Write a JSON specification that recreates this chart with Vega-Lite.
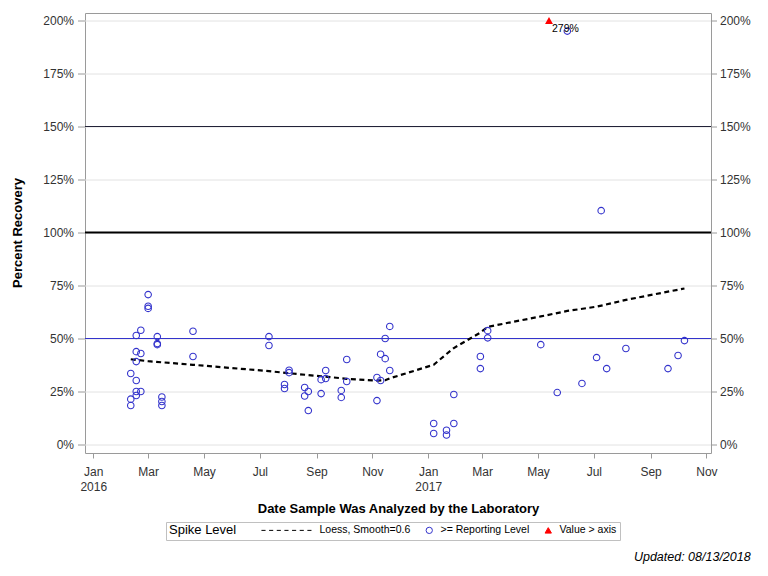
{
  "$schema": "https://vega.github.io/schema/vega-lite/v6.json",
  "autosize": {"type": "none"},
  "width": 626,
  "height": 440,
  "padding": {"left": 85, "top": 13, "right": 57, "bottom": 123},
  "background": "white",
  "title": {
    "text": "Updated: 08/13/2018",
    "orient": "bottom",
    "anchor": "end",
    "frame": "bounds",
    "font": "Liberation Sans",
    "fontSize": 12.5,
    "fontStyle": "italic",
    "fontWeight": "normal",
    "color": "#000000",
    "offset": 10
  },
  "data": {"values": [{}]},
  "layer": [
    {
      "mark": {"type": "rule", "color": "#222238", "strokeWidth": 1},
      "encoding": {"y": {"datum": 150, "type": "quantitative", "scale": {"domain": [-4.009, 203.538], "nice": false, "zero": false}, "axis": null}}
    },
    {
      "mark": {"type": "rule", "color": "#000000", "strokeWidth": 2},
      "encoding": {"y": {"datum": 100, "type": "quantitative", "scale": {"domain": [-4.009, 203.538], "nice": false, "zero": false}, "axis": null}}
    },
    {
      "mark": {"type": "rule", "color": "#3333cc", "strokeWidth": 1},
      "encoding": {"y": {"datum": 50, "type": "quantitative", "scale": {"domain": [-4.009, 203.538], "nice": false, "zero": false}, "axis": null}}
    },
    {
      "data": {"values": [
        {"date": "2016-02-11", "pct": 40.2},
        {"date": "2016-03-01", "pct": 39.3},
        {"date": "2016-04-19", "pct": 37.6},
        {"date": "2016-07-11", "pct": 34.6},
        {"date": "2016-08-02", "pct": 33.6},
        {"date": "2016-09-06", "pct": 32.2},
        {"date": "2016-10-04", "pct": 31.0},
        {"date": "2016-11-06", "pct": 30.1},
        {"date": "2016-11-15", "pct": 30.3},
        {"date": "2016-11-20", "pct": 31.2},
        {"date": "2017-01-07", "pct": 37.6},
        {"date": "2017-01-21", "pct": 42.7},
        {"date": "2017-01-29", "pct": 45.5},
        {"date": "2017-02-27", "pct": 52.8},
        {"date": "2017-03-07", "pct": 55.5},
        {"date": "2017-05-04", "pct": 60.4},
        {"date": "2017-06-02", "pct": 63.0},
        {"date": "2017-07-04", "pct": 65.0},
        {"date": "2017-08-05", "pct": 68.2},
        {"date": "2017-09-20", "pct": 72.1},
        {"date": "2017-10-08", "pct": 73.6}
      ]},
      "mark": {"type": "line", "color": "#000000", "strokeWidth": 2.2, "strokeDash": [5, 3.5]},
      "encoding": {
        "x": {"field": "date", "type": "temporal", "scale": {"type": "utc", "domain": [{"year": 2015, "month": 12, "date": 23, "utc": true}, {"year": 2017, "month": 11, "date": 6, "utc": true}]}},
        "y": {
          "field": "pct", "type": "quantitative",
          "scale": {"domain": [-4.009, 203.538], "nice": false, "zero": false},
          "axis": {
            "orient": "right", "title": null, "grid": false,
            "values": [0, 25, 50, 75, 100, 125, 150, 175, 200],
            "labelExpr": "datum.value + '%'",
            "tickSize": 6, "labelPadding": 3, "translate": 0
          }
        }
      }
    },
    {
      "data": {"values": [
        {"date": "2016-02-11", "pct": 33.5, "series": ">= Reporting Level"},
        {"date": "2016-02-11", "pct": 21.4, "series": ">= Reporting Level"},
        {"date": "2016-02-11", "pct": 18.4, "series": ">= Reporting Level"},
        {"date": "2016-02-17", "pct": 51.4, "series": ">= Reporting Level"},
        {"date": "2016-02-17", "pct": 43.8, "series": ">= Reporting Level"},
        {"date": "2016-02-17", "pct": 39.1, "series": ">= Reporting Level"},
        {"date": "2016-02-17", "pct": 30.2, "series": ">= Reporting Level"},
        {"date": "2016-02-17", "pct": 25.0, "series": ">= Reporting Level"},
        {"date": "2016-02-17", "pct": 23.1, "series": ">= Reporting Level"},
        {"date": "2016-02-22", "pct": 53.9, "series": ">= Reporting Level"},
        {"date": "2016-02-22", "pct": 42.9, "series": ">= Reporting Level"},
        {"date": "2016-02-22", "pct": 25.0, "series": ">= Reporting Level"},
        {"date": "2016-03-01", "pct": 70.7, "series": ">= Reporting Level"},
        {"date": "2016-03-01", "pct": 65.2, "series": ">= Reporting Level"},
        {"date": "2016-03-01", "pct": 64.2, "series": ">= Reporting Level"},
        {"date": "2016-03-11", "pct": 50.9, "series": ">= Reporting Level"},
        {"date": "2016-03-11", "pct": 47.6, "series": ">= Reporting Level"},
        {"date": "2016-03-11", "pct": 47.1, "series": ">= Reporting Level"},
        {"date": "2016-03-16", "pct": 22.4, "series": ">= Reporting Level"},
        {"date": "2016-03-16", "pct": 20.3, "series": ">= Reporting Level"},
        {"date": "2016-03-16", "pct": 18.4, "series": ">= Reporting Level"},
        {"date": "2016-04-19", "pct": 53.4, "series": ">= Reporting Level"},
        {"date": "2016-04-19", "pct": 41.5, "series": ">= Reporting Level"},
        {"date": "2016-07-11", "pct": 50.9, "series": ">= Reporting Level"},
        {"date": "2016-07-11", "pct": 46.7, "series": ">= Reporting Level"},
        {"date": "2016-07-28", "pct": 28.3, "series": ">= Reporting Level"},
        {"date": "2016-07-28", "pct": 26.4, "series": ">= Reporting Level"},
        {"date": "2016-08-02", "pct": 35.0, "series": ">= Reporting Level"},
        {"date": "2016-08-02", "pct": 33.9, "series": ">= Reporting Level"},
        {"date": "2016-08-19", "pct": 26.9, "series": ">= Reporting Level"},
        {"date": "2016-08-19", "pct": 22.9, "series": ">= Reporting Level"},
        {"date": "2016-08-23", "pct": 25.0, "series": ">= Reporting Level"},
        {"date": "2016-08-23", "pct": 16.0, "series": ">= Reporting Level"},
        {"date": "2016-09-06", "pct": 30.6, "series": ">= Reporting Level"},
        {"date": "2016-09-06", "pct": 24.0, "series": ">= Reporting Level"},
        {"date": "2016-09-11", "pct": 34.9, "series": ">= Reporting Level"},
        {"date": "2016-09-11", "pct": 31.1, "series": ">= Reporting Level"},
        {"date": "2016-09-28", "pct": 25.5, "series": ">= Reporting Level"},
        {"date": "2016-09-28", "pct": 22.2, "series": ">= Reporting Level"},
        {"date": "2016-10-04", "pct": 40.1, "series": ">= Reporting Level"},
        {"date": "2016-10-04", "pct": 29.7, "series": ">= Reporting Level"},
        {"date": "2016-11-06", "pct": 31.6, "series": ">= Reporting Level"},
        {"date": "2016-11-06", "pct": 20.7, "series": ">= Reporting Level"},
        {"date": "2016-11-10", "pct": 42.6, "series": ">= Reporting Level"},
        {"date": "2016-11-10", "pct": 30.2, "series": ">= Reporting Level"},
        {"date": "2016-11-15", "pct": 50.0, "series": ">= Reporting Level"},
        {"date": "2016-11-15", "pct": 40.5, "series": ">= Reporting Level"},
        {"date": "2016-11-20", "pct": 55.7, "series": ">= Reporting Level"},
        {"date": "2016-11-20", "pct": 34.9, "series": ">= Reporting Level"},
        {"date": "2017-01-07", "pct": 9.9, "series": ">= Reporting Level"},
        {"date": "2017-01-07", "pct": 5.2, "series": ">= Reporting Level"},
        {"date": "2017-01-21", "pct": 6.7, "series": ">= Reporting Level"},
        {"date": "2017-01-21", "pct": 4.5, "series": ">= Reporting Level"},
        {"date": "2017-01-29", "pct": 23.6, "series": ">= Reporting Level"},
        {"date": "2017-01-29", "pct": 9.9, "series": ">= Reporting Level"},
        {"date": "2017-02-27", "pct": 41.5, "series": ">= Reporting Level"},
        {"date": "2017-02-27", "pct": 35.8, "series": ">= Reporting Level"},
        {"date": "2017-03-07", "pct": 53.7, "series": ">= Reporting Level"},
        {"date": "2017-03-07", "pct": 50.3, "series": ">= Reporting Level"},
        {"date": "2017-05-04", "pct": 47.1, "series": ">= Reporting Level"},
        {"date": "2017-05-22", "pct": 24.5, "series": ">= Reporting Level"},
        {"date": "2017-06-02", "pct": 195.0, "series": ">= Reporting Level"},
        {"date": "2017-06-18", "pct": 28.8, "series": ">= Reporting Level"},
        {"date": "2017-07-04", "pct": 41.0, "series": ">= Reporting Level"},
        {"date": "2017-07-09", "pct": 110.3, "series": ">= Reporting Level"},
        {"date": "2017-07-15", "pct": 35.8, "series": ">= Reporting Level"},
        {"date": "2017-08-05", "pct": 45.3, "series": ">= Reporting Level"},
        {"date": "2017-09-20", "pct": 35.8, "series": ">= Reporting Level"},
        {"date": "2017-10-01", "pct": 42.0, "series": ">= Reporting Level"},
        {"date": "2017-10-08", "pct": 49.0, "series": ">= Reporting Level"}
      ]},
      "mark": {"type": "point", "filled": false, "size": 42, "strokeWidth": 1.1, "opacity": 1},
      "encoding": {
        "x": {
          "field": "date", "type": "temporal",
          "scale": {"type": "utc", "domain": [{"year": 2015, "month": 12, "date": 23, "utc": true}, {"year": 2017, "month": 11, "date": 6, "utc": true}]},
          "axis": {
            "title": "Date Sample Was Analyzed by the Laboratory",
            "values": [
              {"year": 2016, "month": 1, "date": 1, "utc": true},
              {"year": 2016, "month": 3, "date": 1, "utc": true},
              {"year": 2016, "month": 5, "date": 1, "utc": true},
              {"year": 2016, "month": 7, "date": 1, "utc": true},
              {"year": 2016, "month": 9, "date": 1, "utc": true},
              {"year": 2016, "month": 11, "date": 1, "utc": true},
              {"year": 2017, "month": 1, "date": 1, "utc": true},
              {"year": 2017, "month": 3, "date": 1, "utc": true},
              {"year": 2017, "month": 5, "date": 1, "utc": true},
              {"year": 2017, "month": 7, "date": 1, "utc": true},
              {"year": 2017, "month": 9, "date": 1, "utc": true},
              {"year": 2017, "month": 11, "date": 1, "utc": true}
            ],
            "labelExpr": "[utcFormat(datum.value, '%b'), utcmonth(datum.value) == 0 ? utcFormat(datum.value, '%Y') : '']",
            "labelLineHeight": 15,
            "tickSize": 5,
            "labelPadding": 8,
            "titlePadding": 10,
            "grid": false,
            "labelFlush": false,
            "labelOverlap": false
          }
        },
        "y": {
          "field": "pct", "type": "quantitative",
          "scale": {"domain": [-4.009, 203.538], "nice": false, "zero": false},
          "axis": {
            "orient": "left", "title": "Percent Recovery", "grid": true,
            "values": [0, 25, 50, 75, 100, 125, 150, 175, 200],
            "labelExpr": "datum.value + '%'",
            "tickSize": 7, "labelPadding": 4, "titlePadding": 18, "translate": 0
          }
        },
        "color": {
          "field": "series", "type": "nominal",
          "scale": {"domain": ["Loess, Smooth=0.6", ">= Reporting Level", "Value > axis"], "range": ["#000000", "#3333cc", "#ff0000"]},
          "legend": {
            "title": "Spike Level",
            "orient": "none",
            "legendX": 81,
            "legendY": 509,
            "direction": "horizontal",
            "titleOrient": "left",
            "titleFontWeight": "normal",
            "titleFontSize": 13,
            "titleColor": "#000000",
            "titlePadding": 66,
            "labelFontSize": 10.5,
            "labelColor": "#000000",
            "labelOffset": 6,
            "symbolSize": 40,
            "symbolStrokeWidth": 1,
            "symbolOpacity": 1,
            "columnPadding": 13,
            "strokeColor": "#c0c0c0",
            "padding": 3
          }
        },
        "fill": {
          "field": "series", "type": "nominal",
          "scale": {"domain": ["Loess, Smooth=0.6", ">= Reporting Level", "Value > axis"], "range": ["transparent", "transparent", "#ff0000"]},
          "legend": {
            "title": "Spike Level",
            "orient": "none",
            "legendX": 81,
            "legendY": 509,
            "direction": "horizontal",
            "titleOrient": "left",
            "titleFontWeight": "normal",
            "titleFontSize": 13,
            "titleColor": "#000000",
            "titlePadding": 66,
            "labelFontSize": 10.5,
            "labelColor": "#000000",
            "labelOffset": 6,
            "symbolSize": 40,
            "symbolStrokeWidth": 1,
            "symbolOpacity": 1,
            "columnPadding": 13,
            "strokeColor": "#c0c0c0",
            "padding": 3
          }
        },
        "shape": {
          "field": "series", "type": "nominal",
          "scale": {"domain": ["Loess, Smooth=0.6", ">= Reporting Level", "Value > axis"], "range": ["M-14.8,0L-13.5,0M-12.38,0L-11.08,0M-9.96,0L-8.66,0M-7.54,0L-6.24,0M-5.12,0L-3.82,0M-2.7,0L-1.4,0M-0.28,0L1.02,0", "circle", "triangle-up"]},
          "legend": {
            "title": "Spike Level",
            "orient": "none",
            "legendX": 81,
            "legendY": 509,
            "direction": "horizontal",
            "titleOrient": "left",
            "titleFontWeight": "normal",
            "titleFontSize": 13,
            "titleColor": "#000000",
            "titlePadding": 66,
            "labelFontSize": 10.5,
            "labelColor": "#000000",
            "labelOffset": 6,
            "symbolSize": 40,
            "symbolStrokeWidth": 1,
            "symbolOpacity": 1,
            "columnPadding": 13,
            "strokeColor": "#c0c0c0",
            "padding": 3
          }
        }
      }
    },
    {
      "data": {"values": [{"date": "2017-05-13", "actual": 279}]},
      "transform": [{"calculate": "min(datum.actual, 200)", "as": "shown"}],
      "mark": {"type": "point", "filled": true, "shape": "triangle-up", "color": "#ff0000", "size": 62, "opacity": 1},
      "encoding": {
        "x": {"field": "date", "type": "temporal"},
        "y": {"field": "shown", "type": "quantitative", "scale": {"domain": [-4.009, 203.538], "nice": false, "zero": false}, "axis": null}
      }
    },
    {
      "data": {"values": [{"date": "2017-05-13", "actual": 279}]},
      "transform": [
        {"calculate": "min(datum.actual, 200)", "as": "shown"},
        {"calculate": "datum.actual + '%'", "as": "label"}
      ],
      "mark": {"type": "text", "align": "left", "baseline": "top", "dx": 3, "dy": 3, "fontSize": 10.5, "color": "#000000", "font": "Liberation Sans"},
      "encoding": {
        "x": {"field": "date", "type": "temporal"},
        "y": {"field": "shown", "type": "quantitative", "scale": {"domain": [-4.009, 203.538], "nice": false, "zero": false}, "axis": null},
        "text": {"field": "label"}
      }
    }
  ],
  "resolve": {"axis": {"y": "independent"}},
  "config": {
    "font": "Liberation Sans",
    "view": {"stroke": "#9a9a9a", "strokeWidth": 1},
    "axis": {
      "labelFont": "Liberation Sans",
      "labelFontSize": 12,
      "labelColor": "#333333",
      "tickColor": "#9a9a9a",
      "domain": false,
      "gridColor": "#e2e2e2",
      "titleFont": "Liberation Sans",
      "titleFontSize": 13,
      "titleFontWeight": "bold",
      "titleColor": "#000000"
    },
    "legend": {"labelFont": "Liberation Sans", "titleFont": "Liberation Sans"}
  }
}
